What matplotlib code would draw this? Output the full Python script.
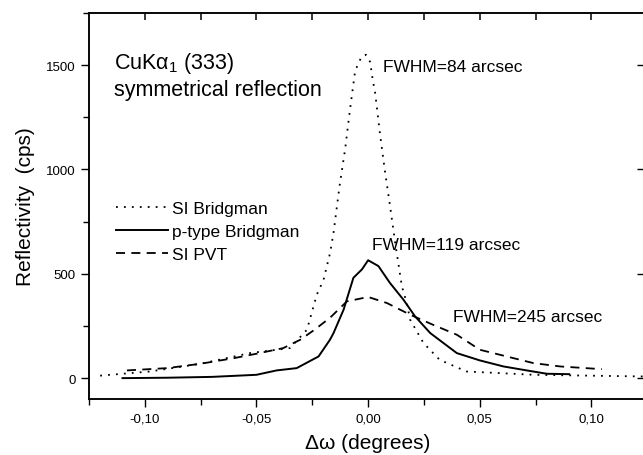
import numpy as np
import matplotlib
matplotlib.use("Agg")
import matplotlib.pyplot as plt
from matplotlib.ticker import MultipleLocator

plt.rcParams['font.family'] = ['Liberation Sans', 'DejaVu Sans']
plt.rcParams['mathtext.fontset'] = 'custom'
plt.rcParams['mathtext.rm'] = 'Liberation Sans'
plt.rcParams['mathtext.it'] = 'Liberation Sans'

# SI Bridgman (dotted)
si_br_x = [-0.120, -0.0976, -0.075, -0.053, -0.035, -0.0274, -0.023, -0.020, -0.017,
           -0.0155, -0.0128, -0.0103, -0.0081, -0.0058, -0.003, -0.001, 0.0009, 0.0021,
           0.0031, 0.0054, 0.0076, 0.0098, 0.0121, 0.0151, 0.0173, 0.0188, 0.0248,
           0.032, 0.044, 0.074, 0.123]
si_br_y = [12, 32, 69, 120, 144, 232, 400, 470, 602,
           697, 921, 1098, 1290, 1474, 1540, 1550, 1515, 1426,
           1370, 1162, 986, 825, 649, 440, 360, 280, 168,
           88, 32, 16, 8]

# p-type Bridgman (solid)
p_br_x = [-0.110, -0.090, -0.070, -0.050, -0.041, -0.032, -0.0222, -0.0171, -0.0155,
          -0.011, -0.0066, -0.0028, 0.000, 0.0046, 0.0097, 0.0158, 0.021, 0.0278,
          0.0397, 0.050, 0.0606, 0.071, 0.080, 0.090]
p_br_y = [0, 2, 6, 16, 37, 48, 104, 184, 216,
          328, 481, 521, 565, 537, 457, 376, 296, 216,
          120, 85, 56, 37, 21, 19]

# SI PVT (dashed)
si_pvt_x = [-0.108, -0.090, -0.075, -0.060, -0.050, -0.038, -0.0304, -0.024, -0.017,
            -0.0095, 0.000, 0.0084, 0.0188, 0.029, 0.0397, 0.050, 0.062, 0.074,
            0.086, 0.1046]
si_pvt_y = [37, 48, 69, 96, 117, 144, 184, 232, 290,
            368, 389, 360, 304, 256, 208, 136, 104, 72,
            56, 43]

x_ticks = [-0.10, -0.05, 0.0, 0.05, 0.10]
x_labels = ['-0,10', '-0,05', '0,00', '0,05', '0,10']
top_ticks = [-0.10, -0.075, -0.05, -0.025, 0.0, 0.025, 0.05, 0.075, 0.10]
y_ticks = [0, 500, 1000, 1500]

fig = plt.figure(figsize=(6.43, 4.56), dpi=100)
ax = fig.add_axes([0.1384, 0.1228, 0.8683, 0.8465])

ax.plot(si_br_x, si_br_y, color='black', lw=1.3, linestyle=(0, (1, 3.4)), label='SI Bridgman')
ax.plot(p_br_x, p_br_y, color='black', lw=1.4, label='p-type Bridgman')
ax.plot(si_pvt_x, si_pvt_y, color='black', lw=1.3, linestyle=(0, (5, 3.5)), label='SI PVT')

ax.set_xlim(-0.125, 0.125)
ax.set_ylim(-100, 1750)
ax.set_xticks(x_ticks)
ax.set_xticklabels(x_labels)
ax.set_yticks(y_ticks)
ax.xaxis.set_minor_locator(MultipleLocator(0.025))
ax.yaxis.set_minor_locator(MultipleLocator(250))
ax.tick_params(which='major', direction='out', length=6, width=1, labelsize=9.5)
ax.tick_params(which='minor', direction='out', length=4, width=1)
for sp in ax.spines.values():
    sp.set_linewidth(1.1)

# inward tick marks along the top edge (x in data, y in axes fraction)
ax.vlines(top_ticks, 0.983, 1.0, transform=ax.get_xaxis_transform(),
          colors='black', linewidth=1.1, clip_on=False)

# inward ticks on the right
axr = ax.twinx()
axr.set_ylim(-100, 1750)
axr.set_yticks(y_ticks)
axr.tick_params(direction='in', length=7, width=1, labelright=False)
for sp in axr.spines.values():
    sp.set_linewidth(1.1)

ax.set_xlabel('Δω (degrees)', fontsize=15, labelpad=6)
ax.set_ylabel('Reflectivity  (cps)', fontsize=15, labelpad=8)

ax.text(0.045, 0.905, 'CuKα$_{\\mathregular{1}}$ (333)\nsymmetrical reflection',
        transform=ax.transAxes, fontsize=15.5, va='top', ha='left', linespacing=1.25)
ax.text(0.0068, 1495, 'FWHM=84 arcsec', fontsize=12.5, va='center')
ax.text(0.0017, 640, 'FWHM=119 arcsec', fontsize=12.5, va='center')
ax.text(0.038, 296, 'FWHM=245 arcsec', fontsize=12.5, va='center')

ax.legend(loc='upper left', bbox_to_anchor=(0.027, 0.545), frameon=False,
          fontsize=12.5, handlelength=3.0, handletextpad=0.2, labelspacing=0.45,
          borderpad=0.2)

fig.savefig('out.png', dpi=100)
